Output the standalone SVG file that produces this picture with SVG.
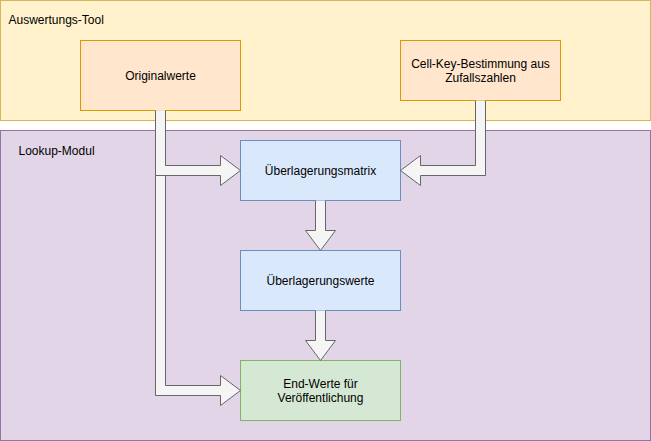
<svg xmlns="http://www.w3.org/2000/svg" width="651" height="441" viewBox="0 0 651 441">
<style>
text{font-family:"Liberation Sans",Arial,Helvetica,sans-serif;font-size:12px;fill:#000}
.c{text-anchor:middle}
.arr{fill:#f5f5f5;stroke:#666666;stroke-width:1;stroke-miterlimit:10}
.orange{fill:#ffe6cc;stroke:#d79b00}
.blue{fill:#dae8fc;stroke:#6c8ebf}
.green{fill:#d5e8d4;stroke:#82b366}
</style>
<rect width="651" height="441" fill="#ffffff"/>
<g transform="translate(0.5,0.5)">
<g id="auswertungs-tool">
<rect x="0" y="0" width="650" height="120" fill="#fff2cc" stroke="#d6b656"/>
<text x="8" y="23">Auswertungs-Tool</text>
</g>
<g id="lookup-modul">
<rect x="0" y="130" width="650" height="310" fill="#e1d5e7" stroke="#9673a6"/>
<text x="18" y="154">Lookup-Modul</text>
</g>
<g id="originalwerte">
<rect class="orange" x="80" y="40" width="160" height="70"/>
<text class="c" x="160" y="79">Originalwerte</text>
</g>
<g id="cell-key">
<rect class="orange" x="400" y="40" width="160" height="60"/>
<text class="c" x="480" y="67">Cell-Key-Bestimmung aus</text>
<text class="c" x="480" y="81.5">Zufallszahlen</text>
</g>
<g id="ueberlagerungsmatrix">
<rect class="blue" x="240" y="140" width="160" height="60"/>
<text class="c" x="320" y="174">Überlagerungsmatrix</text>
</g>
<g id="ueberlagerungswerte">
<rect class="blue" x="240" y="250" width="160" height="60"/>
<text class="c" x="320" y="284">Überlagerungswerte</text>
</g>
<g id="end-werte">
<rect class="green" x="240" y="360" width="160" height="60"/>
<text class="c" x="320" y="387">End-Werte für</text>
<text class="c" x="320" y="401.5">Veröffentlichung</text>
</g>
<g id="connectors">
<path class="arr" d="M155 110 L155 395 L220 395 L220 405 L240 390 L220 375 L220 385 L165 385 L165 110"/>
<path class="arr" d="M155 110 L155 175 L220 175 L220 185 L240 170 L220 155 L220 165 L165 165 L165 110"/>
<path class="arr" d="M485 100 L485 175 L420 175 L420 185 L400 170 L420 155 L420 165 L475 165 L475 100"/>
<path class="arr" d="M315 200 L315 230 L305 230 L320 250 L335 230 L325 230 L325 200"/>
<path class="arr" d="M315 310 L315 340 L305 340 L320 360 L335 340 L325 340 L325 310"/>
</g>
</g>
</svg>
